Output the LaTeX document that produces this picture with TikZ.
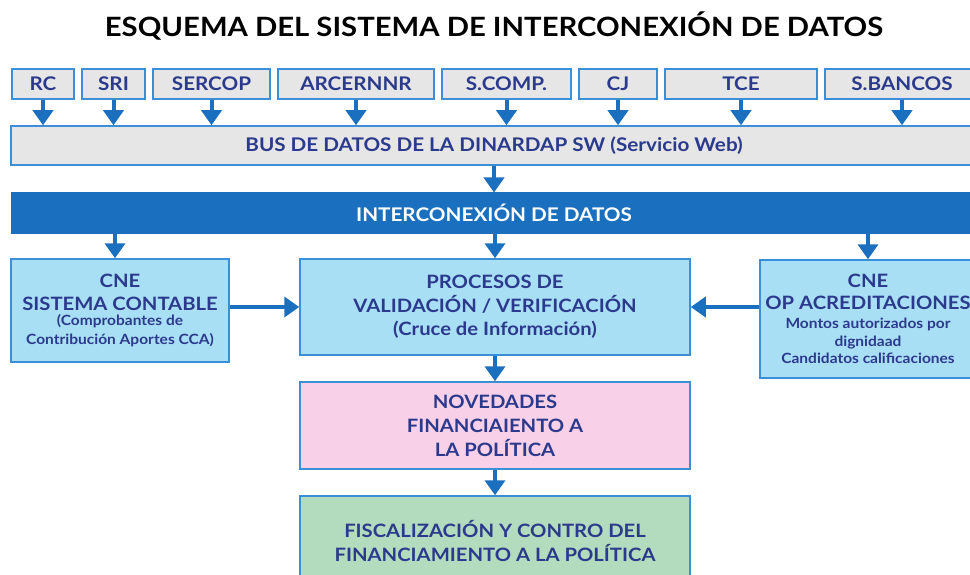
\documentclass[tikz,border=0pt]{standalone}
\usepackage{fontspec}
\setmainfont{Lato}[FakeStretch=1.1]
\usetikzlibrary{arrows.meta}
\definecolor{navy}{HTML}{2B3A8C}
\definecolor{abl}{HTML}{1A6FBF}
\definecolor{bdr}{HTML}{3A8FD6}
\definecolor{grayf}{HTML}{E6E6E6}
\definecolor{cyanf}{HTML}{A8DFF5}
\definecolor{pinkf}{HTML}{F8D0E8}
\definecolor{greenf}{HTML}{B3DBBD}
\tikzset{
  box/.style={draw=bdr, line width=1.5pt, text=navy, align=center, inner sep=0pt},
  topbox/.style={box, fill=grayf, minimum height=30pt, font=\bfseries\fontsize{18.8}{20}\selectfont},
  bigbox/.style={box, fill=cyanf, font=\bfseries\fontsize{18.4}{23.5}\selectfont},
  arr/.style={draw=abl, line width=4pt, -{Triangle[width=20pt,length=15pt]}}
}
\newcommand{\smalltxt}{\fontsize{14.1}{18}\selectfont}
\begin{document}
\begin{tikzpicture}[x=1pt,y=-1pt]
\useasboundingbox[fill=white] (0,0) rectangle (970,575);
\node[font=\bfseries\fontsize{26.6}{30}\selectfont, text=black] (title) at (494,26) {ESQUEMA DEL SISTEMA DE INTERCONEXIÓN DE DATOS};
% top sources
\node[topbox, minimum width=62pt] (rc) at (43,84) {RC};
\node[topbox, minimum width=63pt] (sri) at (113.5,84) {SRI};
\node[topbox, minimum width=117pt] (sercop) at (211.5,84) {SERCOP};
\node[topbox, minimum width=156pt] (arc) at (356,84) {ARCERNNR};
\node[topbox, minimum width=129pt] (scomp) at (506.5,84) {S.COMP.};
\node[topbox, minimum width=78pt] (cj) at (618,84) {CJ};
\node[topbox, minimum width=152pt] (tce) at (741,84) {TCE};
\node[topbox, minimum width=154pt] (sban) at (902,84) {S.BANCOS};
% bus
\node[topbox, minimum width=966pt, minimum height=39pt] (bus) at (494,145.5) {BUS DE DATOS DE LA DINARDAP SW (Servicio Web)};
\foreach \n in {rc,sri,sercop,arc,scomp,cj,tce,sban}
  \draw[arr] (\n.south) -- (\n.south |- bus.north);
% interconexion
\node[draw=abl, fill=abl, text=white, line width=1pt, minimum width=966pt, minimum height=40pt, inner sep=0pt, font=\bfseries\fontsize{18.8}{20}\selectfont] (inter) at (494,213) {INTERCONEXIÓN DE DATOS};
\draw[arr] (bus.south) -- (inter.north);
% boxes
\node[bigbox, minimum width=218pt, minimum height=103pt] (cnel) at (120,310.5) {CNE\\[-1pt]SISTEMA CONTABLE\\[-8pt]{\smalltxt (Comprobantes de}\\[-5pt]{\smalltxt Contribución Aportes CCA)}};
\node[bigbox, minimum width=390pt, minimum height=96pt] (proc) at (495,307) {PROCESOS DE\\VALIDACIÓN / VERIFICACIÓN\\(Cruce de Información)};
\node[bigbox, minimum width=216pt, minimum height=118pt] (cner) at (868,319) {CNE\\[-2pt]OP ACREDITACIONES\\[-4pt]{\smalltxt Montos autorizados por}\\[-6pt]{\smalltxt dignidaad}\\[-6pt]{\smalltxt Candidatos calificaciones}};
\node[box, fill=pinkf, minimum width=390pt, minimum height=87pt, font=\bfseries\fontsize{18.4}{24}\selectfont] (nov) at (495,425.5) {NOVEDADES\\FINANCIAIENTO A\\LA POLÍTICA};
\node[box, fill=greenf, minimum width=390pt, minimum height=90pt, font=\bfseries\fontsize{18.4}{24}\selectfont] (fisc) at (495,541) {FISCALIZACIÓN Y CONTRO DEL\\FINANCIAMIENTO A LA POLÍTICA};
% arrows
\coordinate (i1) at (115,233);
\coordinate (i3) at (868,233);
\draw[arr] (i1) -- (i1 |- cnel.north);
\draw[arr] (inter.south -| proc.north) -- (proc.north);
\draw[arr] (i3) -- (i3 |- cner.north);
\draw[arr] (cnel.east |- 0,307) -- (proc.west |- 0,307);
\draw[arr] (cner.west |- 0,307) -- (proc.east |- 0,307);
\draw[arr] (proc.south) -- (nov.north);
\draw[arr] (nov.south) -- (fisc.north);
\end{tikzpicture}
\end{document}
